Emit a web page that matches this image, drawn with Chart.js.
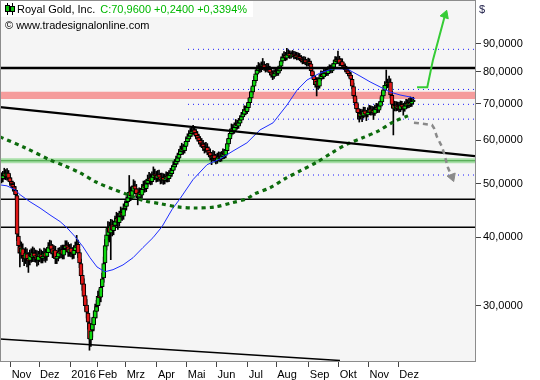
<!DOCTYPE html>
<html><head><meta charset="utf-8">
<script src="https://cdn.jsdelivr.net/npm/chart.js@4/dist/chart.umd.min.js"></script>
<style>html,body{margin:0;padding:0;background:#fff}#wrap{width:540px;height:380px;position:relative}</style>
</head><body><div id="wrap"><canvas id="c"></canvas></div>
<script>
// ---- axis labels ----
const monthTicks  = [8,28,50,69,89,111,132,153,175,195,218,239,260,281]; // first trading-day index of each month
const monthLabels = ['Nov','Dez','2016','Feb','Mrz','Apr','Mai','Jun','Jul','Aug','Sep','Okt','Nov','Dez'];
const priceTicks  = [30,40,50,60,70,80,90];

// ---- daily OHLC (trading day index 0 = 21 Oct 2015) ----
const open = [
51.0,51.6,51.1,51.7,52.2,51.5,52.3,51.3,50.5,49.9, 49.4,48.7,47.6,40.2,38.4,37.4,38.1,37.1,36.5,37.3,
36.6,36.3,37.2,36.7,37.4,36.8,37.1,36.3,36.8,37.2, 36.6,36.8,37.5,36.9,37.5,38.2,38.7,38.1,37.3,37.9,
36.5,36.8,37.6,37.3,38.0,37.1,38.1,38.7,38.4,37.5, 38.2,37.6,37.2,37.8,38.3,38.8,37.5,35.8,34.1,32.9,
31.3,30.1,29.1,27.9,26.0,27.1,27.7,28.5,29.3,30.0, 31.3,31.1,32.5,33.7,35.9,38.5,40.3,41.7,40.7,42.1,
41.1,42.0,42.6,43.4,42.5,43.7,44.4,43.7,45.1,45.5, 46.4,47.1,48.4,47.5,48.5,49.6,49.0,48.1,47.3,48.3,
47.7,48.8,49.7,49.0,50.1,50.7,51.3,50.5,51.4,52.1, 51.8,51.1,52.0,51.5,50.8,51.4,50.7,51.0,51.7,51.1,
51.8,52.2,52.9,53.7,54.4,54.9,55.7,56.5,57.3,58.1, 57.5,58.5,59.7,60.4,61.1,61.7,62.2,62.7,62.0,61.3,
60.7,60.0,59.2,59.1,58.5,57.7,58.3,57.5,57.0,56.1, 55.7,56.4,55.7,55.1,55.7,56.2,55.6,56.1,56.9,56.4,
57.5,59.1,60.4,61.7,63.1,62.4,63.3,64.3,63.7,64.5, 65.3,66.2,67.0,68.3,67.7,68.8,70.3,71.7,73.5,75.3,
77.1,79.2,80.5,81.6,80.7,81.8,82.4,81.5,80.8,81.7, 80.8,79.9,79.3,78.5,79.3,80.2,79.5,80.3,81.9,83.7,
84.8,85.7,84.7,85.8,86.4,85.3,85.7,86.2,85.1,85.8, 84.8,85.4,84.7,84.2,83.4,84.1,83.3,82.6,83.5,82.7,
80.3,78.7,77.5,75.7,77.0,75.3,77.7,79.2,78.3,79.5, 80.4,79.4,80.5,81.3,80.3,81.5,82.7,84.2,83.4,84.4,
82.8,83.5,82.2,81.7,80.9,80.3,79.5,78.9,77.5,75.2, 72.3,70.3,68.6,67.3,66.3,67.3,66.5,67.9,67.1,66.8,
67.5,68.4,67.4,68.1,67.2,68.3,69.0,68.1,69.3,70.5, 72.3,74.1,75.5,76.5,75.7,76.6,72.5,69.7,68.5,69.6,
68.6,69.4,68.3,69.7,69.1,68.4,69.3,70.2,69.4,70.4, 69.9,70.6];
const high = [
53.0,52.4,52.7,53.4,53.1,53.3,52.9,52.0,51.3,50.6, 50.3,49.5,48.0,41.5,39.4,39.2,38.9,38.1,38.3,38.1,
37.5,37.9,38.1,38.4,38.2,37.9,37.8,37.7,38.1,37.9, 37.7,38.2,38.1,38.3,39.1,39.5,39.4,38.8,38.6,38.5,
37.7,38.2,38.3,38.6,38.7,38.7,39.4,39.4,39.1,38.8, 38.9,38.3,38.6,39.2,40.3,39.5,38.0,36.5,34.8,33.6,
32.0,30.8,29.7,28.6,27.7,28.5,29.3,30.2,30.7,31.9, 32.2,33.2,34.4,36.8,39.6,41.4,42.7,42.6,43.1,43.0,
42.8,43.7,44.4,44.2,44.6,45.4,45.2,46.0,46.6,47.4, 48.2,51.8,49.4,49.6,50.9,50.6,49.9,49.0,49.2,49.1,
49.9,50.6,50.7,51.0,51.9,52.5,52.2,52.6,53.7,53.2, 52.7,52.9,53.0,52.3,52.3,52.2,52.1,52.6,52.5,52.9,
53.4,54.0,54.9,55.4,56.2,56.9,57.8,58.6,59.3,59.0, 59.6,60.9,61.7,62.5,63.1,63.6,63.9,63.6,62.9,62.3,
61.6,61.0,60.5,60.0,59.4,59.5,59.2,58.4,57.9,57.1, 57.5,57.3,56.6,56.9,57.2,57.1,57.3,57.9,57.8,58.7,
60.3,61.6,62.9,64.3,64.1,64.6,65.5,65.3,65.8,66.6, 67.5,68.3,69.4,69.3,70.1,71.6,73.0,74.8,76.7,78.5,
80.7,82.1,83.2,82.8,83.4,84.6,83.5,82.6,82.9,82.8, 81.9,81.0,80.4,80.7,81.4,81.2,81.8,83.4,85.2,86.3,
87.1,86.8,88.3,87.7,87.4,87.1,87.5,87.2,87.0,86.8, 86.6,86.4,85.7,85.2,85.3,85.1,84.3,84.7,84.5,83.7,
81.4,79.8,78.6,78.1,78.1,79.0,80.3,80.2,80.8,81.5, 81.4,81.8,82.4,82.3,82.8,84.0,85.3,85.2,87.3,85.4,
84.6,84.5,83.2,82.7,81.9,81.3,80.5,79.9,78.5,76.3, 73.4,71.4,69.7,68.4,68.4,68.3,69.0,68.9,68.1,68.8,
69.5,69.4,69.2,69.1,69.6,70.1,70.0,70.6,71.8,73.6, 75.4,76.8,80.6,77.6,78.6,77.7,73.7,70.9,70.7,70.6,
70.5,70.4,70.8,70.7,70.1,70.6,71.3,71.2,71.6,72.0, 71.8,71.9];
const low = [
50.3,50.2,50.4,51.0,50.9,50.8,50.5,49.7,49.2,48.5, 47.9,46.9,39.4,37.4,35.3,36.6,36.1,35.5,35.8,35.3,
34.5,35.6,36.0,36.1,36.1,36.0,35.4,35.6,36.1,35.9, 35.9,36.2,36.0,36.3,36.9,37.6,37.3,36.7,36.6,35.8,
35.8,36.2,36.6,36.7,36.5,36.5,37.4,37.6,36.9,36.9, 36.8,36.5,36.6,37.2,37.7,36.7,35.2,33.3,32.0,30.4,
29.3,28.5,27.2,24.9,25.3,26.3,27.0,27.8,28.5,29.4, 30.1,30.5,31.8,33.1,35.2,37.9,39.5,39.2,36.4,40.2,
40.4,41.3,41.9,41.3,41.9,43.0,42.9,43.1,44.4,44.8, 45.6,46.4,46.6,46.8,47.9,48.1,47.2,45.8,46.7,46.9,
47.1,48.2,48.3,48.4,49.4,50.0,49.8,49.9,50.8,50.9, 50.4,50.5,50.6,50.0,50.1,49.9,50.0,50.4,50.4,50.5,
51.2,51.6,52.3,53.1,53.7,54.3,55.1,55.8,56.6,56.6, 56.9,57.9,59.0,59.7,60.4,61.0,61.5,61.1,60.4,59.8,
59.1,58.5,58.2,57.5,56.9,57.1,56.5,56.0,55.3,54.2, 55.1,54.8,54.4,54.5,55.0,54.9,55.0,55.5,55.6,55.8,
56.9,58.5,59.7,61.1,61.6,61.8,62.6,62.9,63.1,63.9, 64.6,65.5,66.4,66.8,67.1,68.2,69.6,71.1,72.8,74.6,
76.4,78.4,79.7,79.8,80.0,81.1,80.5,79.9,80.1,79.8, 78.9,78.2,77.4,77.8,78.6,78.7,78.8,79.7,81.3,83.0,
84.1,83.8,84.1,85.1,84.6,84.7,85.1,84.4,84.5,84.1, 84.2,83.8,83.3,82.7,82.8,82.4,81.9,82.0,82.0,79.6,
77.8,76.6,75.0,72.3,74.4,74.7,77.1,77.6,77.7,78.9, 78.7,78.8,79.9,79.6,79.7,80.9,82.1,82.7,82.8,82.1,
82.2,81.3,80.8,80.0,79.4,78.6,78.0,76.8,74.5,71.6, 69.4,67.7,65.6,64.8,65.6,64.9,65.9,66.2,65.2,66.2,
66.9,66.7,66.8,65.5,66.6,67.7,67.4,67.5,68.7,69.9, 71.7,73.4,74.9,74.8,75.1,71.8,69.0,61.4,67.9,67.9,
68.0,67.6,67.7,68.2,66.7,67.8,68.7,68.7,68.8,69.1, 69.2,69.9];
const close = [
51.5,51.0,51.8,52.3,51.6,52.4,51.2,50.4,50.0,49.3, 48.8,47.8,40.5,38.6,37.5,38.2,37.0,36.6,37.4,36.5,
36.2,37.1,36.8,37.5,36.9,37.0,36.4,36.9,37.3,36.7, 36.9,37.4,36.8,37.6,38.3,38.6,38.0,37.4,37.8,36.6,
36.9,37.5,37.4,37.9,37.2,38.0,38.6,38.3,37.6,38.1, 37.5,37.3,37.9,38.4,38.7,37.4,35.9,34.0,32.8,31.2,
30.0,29.2,28.0,26.1,27.0,27.8,28.6,29.4,29.9,31.2, 31.0,32.4,33.6,35.8,38.6,40.4,41.6,40.8,42.0,41.2,
41.9,42.7,43.3,42.6,43.6,44.3,43.8,45.0,45.6,46.3, 47.2,48.3,47.6,48.6,49.5,48.9,48.0,47.4,48.2,47.8,
48.9,49.6,49.1,50.0,50.8,51.2,50.6,51.5,52.0,51.7, 51.2,51.9,51.4,50.9,51.3,50.8,51.1,51.6,51.2,51.9,
52.3,53.0,53.8,54.3,55.0,55.8,56.6,57.4,58.0,57.6, 58.6,59.8,60.5,61.2,61.8,62.3,62.6,61.9,61.2,60.6,
59.9,59.3,59.0,58.4,57.8,58.2,57.4,56.9,56.2,55.8, 56.3,55.6,55.2,55.8,56.1,55.7,56.2,56.8,56.5,57.6,
59.2,60.5,61.8,63.0,62.5,63.4,64.2,63.8,64.6,65.4, 66.3,67.1,68.2,67.8,68.9,70.4,71.8,73.6,75.4,77.2,
79.3,80.6,81.5,80.8,81.9,82.3,81.4,80.9,81.6,80.7, 79.8,79.2,78.6,79.4,80.1,79.6,80.4,82.0,83.8,84.9,
85.6,84.8,85.9,86.3,85.4,85.8,86.1,85.2,85.7,84.9, 85.3,84.6,84.1,83.5,84.0,83.2,82.7,83.4,82.8,80.4,
78.6,77.4,75.8,76.9,75.2,77.8,79.1,78.4,79.6,80.3, 79.5,80.6,81.2,80.4,81.6,82.8,84.1,83.5,84.3,82.9,
83.4,82.1,81.6,80.8,80.2,79.4,78.8,77.6,75.3,72.4, 70.2,68.5,67.4,66.4,67.2,66.6,67.8,67.0,66.9,67.6,
68.3,67.5,68.0,67.3,68.4,68.9,68.2,69.4,70.6,72.4, 74.2,75.6,76.4,75.8,76.5,72.6,69.8,68.6,69.5,68.7,
69.3,68.4,69.6,69.0,68.5,69.4,70.1,69.5,70.3,69.8, 70.72,70.96];

// ---- moving averages (sampled at trading-day indices) ----
const ma200Idx = [0,17.6,35.2,45.8,56.3,67.6,78.9,90.1,101.4,113.4,125.4,137.3,151.4,163.4,173.9,179.6,190.1,200.7,211.3,223.2,233.8,244.4,254.9,266.2,276.8,287.3];
const ma200Val = [60.9,58.2,55.3,53.9,52.4,50.4,49.0,47.8,46.6,46.0,45.4,45.2,45.4,46.2,47.0,48.0,49.2,51.1,52.8,54.8,57.0,59.1,60.6,62.4,64.8,66.5];
const ma50Idx = [0,4.9,10.6,14.1,21.1,28.2,35.2,42.3,47.2,52.8,58.5,63.4,68.3,73.9,79.6,86.6,93.7,100.7,107.7,114.1,121.1,126.8,135.9,145.8,154.9,164.1,173.9,183.1,192.3,202.1,209.2,216.2,225.4,234.5,244.4,253.5,260.6,267.6,274.6,281.7,288.7,292.3];
const ma50Val = [49.8,49.6,48.8,47.8,46.4,45.2,43.9,42.7,41.6,40.1,38.4,36.7,35.3,34.6,34.9,35.6,36.7,38.3,39.9,41.8,44.9,47.0,50.9,54.2,55.5,57.4,59.4,62.7,64.6,69.6,74.1,77.3,79.6,81.0,81.0,78.6,76.7,75.1,73.5,72.6,72.0,71.4];

// ---- drawn levels / trendlines / arrows ----
const xEnd = 334.5;
const resistanceLevels = [81.3];
const supportLevels = [46.9, 41.7];
const dottedLevels = [87.9, 74.3, 69.8, 65.6, 51.9];
const dottedStart = 132.4;
const pinkBand = [71.4, 73.6];
const greenBand = [54.55, 55.7, 55.1];
const trendIdx = [0, xEnd], trendVal = [69.0, 56.2];
const lowTrendIdx = [0, 239.4], lowTrendVal = [26.1, 23.85];
const upArrowIdx = [293.7, 300.9, 304.9, 313.4], upArrowVal = [75.0, 75.0, 84.1, 101.5];
const downArrowIdx = [291.5, 296.5, 304.2, 305.6, 307.7, 311.3, 313.4, 315.5, 318.3];
const downArrowVal = [64.6, 64.4, 64.0, 63.2, 60.9, 58.4, 56.0, 53.5, 51.5];

const pts = (xs, ys) => xs.map((x, i) => ({x, y: ys[i]}));
const hline = (v, a, b) => [{x: a, y: v}, {x: b, y: v}];

const datasets = [];
datasets.push({type:'line', data: hline(pinkBand[1], 0, xEnd), borderColor:'rgba(0,0,0,0)', borderWidth:0, pointRadius:0,
  fill:{value: pinkBand[0]}, backgroundColor:'#f59c9c', order:100});
datasets.push({type:'line', data: hline(greenBand[1], 0, xEnd), borderColor:'rgba(0,0,0,0)', borderWidth:0, pointRadius:0,
  fill:{value: greenBand[0]}, backgroundColor:'#a9dfa9', order:99});
datasets.push({type:'line', data: hline(greenBand[2], 0, xEnd), borderColor:'#3f9f3f', borderWidth:1, pointRadius:0, fill:false, order:98});
dottedLevels.forEach(v => datasets.push({type:'line', data: hline(v, dottedStart, xEnd), borderColor:'#1a1aff', borderWidth:1,
  borderDash:[1,4], pointRadius:0, fill:false, order:90}));
supportLevels.forEach(v => datasets.push({type:'line', data: hline(v, 0, xEnd), borderColor:'#000', borderWidth:1.5, pointRadius:0, fill:false, order:80}));
datasets.push({type:'bar', data: close.map((c, i) => ({x: i, y: [low[i], high[i]]})), backgroundColor:'#000',
  barThickness:1, grouped:false, order:50});
datasets.push({type:'bar', data: close.map((c, i) => ({x: i, y: [open[i], c]})),
  backgroundColor: close.map((c, i) => c >= open[i] ? '#10d810' : '#e01818'),
  borderColor:'#000', borderWidth:1, borderSkipped:false, barThickness:4, grouped:false, order:49});
datasets.push({type:'line', data: pts(ma50Idx, ma50Val), borderColor:'#1f2fff', borderWidth:1, pointRadius:0, fill:false, order:40});
datasets.push({type:'line', data: pts(ma200Idx, ma200Val), borderColor:'#0d6b0d', borderWidth:3.2, borderDash:[4,4],
  borderCapStyle:'butt', pointRadius:0, fill:false, order:39, tension:0.3});
resistanceLevels.forEach(v => datasets.push({type:'line', data: hline(v, 0, xEnd), borderColor:'#000', borderWidth:2.4, pointRadius:0, fill:false, order:30}));
datasets.push({type:'line', data: pts(trendIdx, trendVal), borderColor:'#000', borderWidth:2.2, pointRadius:0, fill:false, order:30});
datasets.push({type:'line', data: pts(lowTrendIdx, lowTrendVal), borderColor:'#000', borderWidth:1.5, pointRadius:0, fill:false, order:30});
datasets.push({type:'line', data: pts(upArrowIdx, upArrowVal), borderColor:'#35cc35', borderWidth:2, fill:false, order:20,
  pointRadius:[0,0,0,5], pointStyle:'triangle', pointRotation:20, pointBackgroundColor:'#35cc35', pointBorderColor:'#35cc35', pointBorderWidth:1});
datasets.push({type:'line', data: pts(downArrowIdx, downArrowVal), borderColor:'#8a8a8a', borderWidth:2.5, borderDash:[5,4], fill:false, order:20,
  pointRadius:[0,0,0,0,0,0,0,0,5], pointStyle:'triangle', pointRotation:160, pointBackgroundColor:'#8a8a8a', pointBorderColor:'#8a8a8a', pointBorderWidth:1});

const deco = {
  id:'deco',
  beforeDraw(chart){
    const {ctx, chartArea:a} = chart;
    ctx.save(); ctx.fillStyle = '#f5f5f5'; ctx.fillRect(a.left, a.top, a.right - a.left, a.bottom - a.top); ctx.restore();
  },
  afterDraw(chart){
    const {ctx, chartArea:a} = chart;
    ctx.save();
    ctx.strokeStyle = '#8c8c8c'; ctx.lineWidth = 1;
    ctx.strokeRect(a.left + 0.5, a.top + 0.5, a.right - a.left, a.bottom - a.top);
    // title box
    ctx.fillStyle = '#fff'; ctx.fillRect(1, 1, 252, 16);
    // icon
    ctx.fillStyle = '#000';
    ctx.fillRect(7, 3, 1, 12); ctx.fillRect(12, 3, 1, 12);
    ctx.fillStyle = '#10c010';
    ctx.fillRect(5, 5, 5, 7); ctx.fillRect(10, 6, 5, 6);
    ctx.strokeStyle = '#000'; ctx.strokeRect(5.5, 5.5, 4, 6); ctx.strokeRect(10.5, 6.5, 4, 5);
    ctx.font = '11px "Liberation Sans", Arial, sans-serif';
    ctx.textBaseline = 'middle';
    ctx.fillStyle = '#000';
    const t1 = 'Royal Gold, Inc.';
    ctx.fillText(t1, 17, 10);
    ctx.fillStyle = '#00b800';
    ctx.fillText('C:70,9600 +0,2400 +0,3394%', 17 + ctx.measureText(t1).width + 5, 10);
    ctx.fillStyle = '#000';
    ctx.fillText('\u00a9 www.tradesignalonline.com', 5, 26);
    ctx.fillStyle = '#20204a';
    ctx.fillText('$', 479, 10);
    ctx.restore();
  }
};

new Chart(document.getElementById('c'), {
  type:'bar',
  data:{ datasets },
  plugins:[deco],
  options:{
    responsive:true, maintainAspectRatio:false, animation:false,
    layout:{ padding:0, autoPadding:false },
    plugins:{ legend:{display:false}, tooltip:{enabled:false} },
    scales:{
      x:{ type:'linear', min:0, max:xEnd, offset:false,
        afterBuildTicks: s => { s.ticks = monthTicks.map(v => ({value: v - 0.5})); },
        afterFit: s => { s.height = 19; s.paddingLeft = 0; s.paddingRight = 0; },
        grid:{ drawOnChartArea:false, offset:false, tickLength:6, color:'#444' },
        border:{ display:false },
        ticks:{ autoSkip:false, maxRotation:0, minRotation:0, align:'start', padding:1, labelOffset:1,
          color:'#000', font:{ family:'"Liberation Sans", Arial, sans-serif', size:11 },
          callback:(v, i) => monthLabels[i] }
      },
      y:{ type:'logarithmic', position:'right', min:23.8, max:108.1,
        afterBuildTicks: s => { s.ticks = priceTicks.map(v => ({value: v})); },
        afterFit: s => { s.width = 65; s.paddingTop = 0; s.paddingBottom = 0; },
        grid:{ drawOnChartArea:false, tickLength:6, color:'#444' },
        border:{ display:false },
        ticks:{ padding:2, color:'#000', font:{ family:'"Liberation Sans", Arial, sans-serif', size:11 },
          callback: v => Number(v).toFixed(4).replace('.', ',') }
      }
    }
  }
});
</script>
</body></html>
